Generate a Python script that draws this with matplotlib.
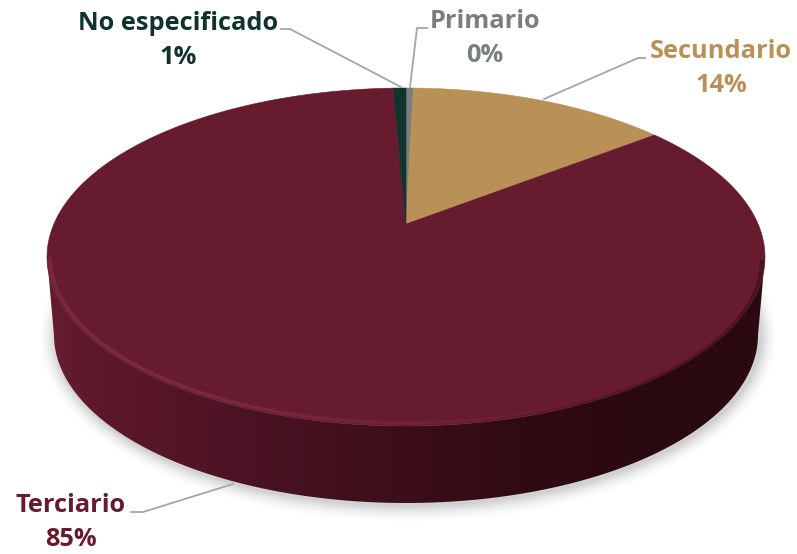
import matplotlib
matplotlib.use('Agg')
import matplotlib.pyplot as plt
from matplotlib.collections import LineCollection
from matplotlib.colors import LinearSegmentedColormap
from matplotlib.patches import Ellipse, PathPatch
from matplotlib.path import Path
import numpy as np

# clockwise from 12 o'clock
categories = ['Primario', 'Secundario', 'Terciario', 'No especificado']
shares = [0.4, 14.1, 84.8, 0.7]
labels = ['0%', '14%', '85%', '1%']
colors = ['#7a7e80', '#b99157', '#661b2f', '#11332d']

# geometry of the disc, in picture pixels
cx, cy, rx, ry = 406, 257, 359, 169
bx, by, brx, bry = 406, 335, 352, 168
tilt = 0.195  # perspective: moves the pie centre up from the ellipse centre


def project(theta):
    # theta in radians, clockwise from the top of the disc
    u = np.sin(theta)
    v = np.cos(theta)
    d = 1 + tilt * v
    px = u * np.sqrt(1 - tilt ** 2) / d
    py = (v + tilt) / d
    return cx + rx * px, cy - ry * py


fig = plt.figure(figsize=(7.97, 5.54), dpi=100)
ax = fig.add_axes([0, 0, 1, 1])
ax.set_xlim(0, 797)
ax.set_ylim(554, 0)
ax.axis('off')

# soft shadow under the disc
for grow, alpha in zip(np.arange(16, 0, -2), [0.010, 0.013, 0.016, 0.02, 0.025, 0.03, 0.035, 0.04]):
    ax.add_patch(Ellipse((bx + 2, by + 2), 2 * (brx + grow), 2 * (bry + grow),
                         fc='black', ec='none', alpha=alpha, zorder=1))

# side wall with a left to right gradient
t = np.linspace(0, np.pi, 300)
top_x = cx + rx * np.cos(t)
top_y = cy + ry * np.sin(t)
bot_x = bx + brx * np.cos(t[::-1])
bot_y = by + bry * np.sin(t[::-1])
wall = Path(np.column_stack([np.r_[top_x, bot_x], np.r_[top_y, bot_y]]))
wall_cmap = LinearSegmentedColormap.from_list('wall', [
    (0.0, '#661c30'), (0.06, '#5e192b'), (0.25, '#4d1324'), (0.5, '#3c0e1a'),
    (0.66, '#300b14'), (0.85, '#2a0910'), (1.0, '#2a0910')])
img = ax.imshow(np.linspace(0, 1, 400)[None, :], cmap=wall_cmap, aspect='auto',
                extent=(47, 765, 510, 250), zorder=2)
img.set_clip_path(PathPatch(wall, transform=ax.transData))
ax.set_xlim(0, 797)
ax.set_ylim(554, 0)

# top face, slices come from the shares
start = 0.0
for share, color in zip(shares, colors):
    end = start + share / sum(shares) * 2 * np.pi
    arc = np.linspace(start, end, max(int(share * 8), 4))
    xs, ys = project(arc)
    ax.fill(np.r_[cx, xs], np.r_[cy - ry * tilt, ys], color=color, lw=0.4, zorder=3)
    start = end

# bevel on the front rim
rim_t = np.linspace(np.pi, 0, 400)
rim_x = cx + (rx - 3) * np.cos(rim_t)
rim_y = cy + (ry - 3) * np.sin(rim_t)
pts = np.column_stack([rim_x, rim_y]).reshape(-1, 1, 2)
segs = np.concatenate([pts[:-1], pts[1:]], axis=1)
fade = np.clip((620 - rim_x[:-1]) / 420, 0, 1)
for width, strength in [(4, 0.12), (2.6, 0.16), (1.3, 0.28)]:
    ax.add_collection(LineCollection(segs, colors=[(0.62, 0.25, 0.37, a * strength) for a in fade],
                                     linewidths=width, zorder=4))
# the front rim melts into the dark wall on the right
dark = np.clip((rim_x[:-1] - 480) / 200, 0, 1)
rim_dark = LineCollection(segs + np.array([0, 3]), colors=[(0.16, 0.03, 0.06, a * 0.45) for a in dark],
                          linewidths=3, zorder=4)
ax.add_collection(rim_dark)

# labels with leader lines
font = dict(family=['Open Sans', 'DejaVu Sans'], fontweight='bold', fontsize=18.3, ha='center', va='center', zorder=6)
label_pos = {'Primario': (485, 21), 'Secundario': (721, 51),
             'Terciario': (71, 505), 'No especificado': (178, 23)}
for name, lab, color in zip(categories, labels, colors):
    x, y = label_pos[name]
    ax.text(x, y, name, color=color, **font)
    ax.text(x, y + 34, lab, color=color, **font)

leaders = [([427, 417, 410], [28, 28, 87]),
           ([645, 638, 544], [58, 58, 99]),
           ([131, 143, 233], [512, 512, 484]),
           ([281, 290, 401], [29, 29, 87])]
for lx, ly in leaders:
    ax.plot(lx, ly, color='#a6a6a6', lw=1.3, zorder=5)

fig.savefig('out.png', dpi=100)
